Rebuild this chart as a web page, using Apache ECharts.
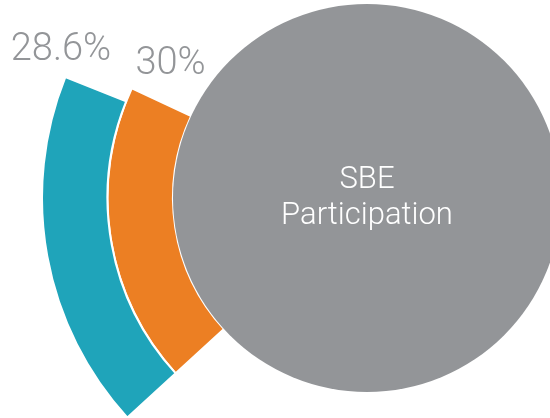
<!DOCTYPE html>
<html>
<head>
<meta charset="utf-8">
<script src="https://cdn.jsdelivr.net/npm/echarts@6/dist/echarts.min.js"></script>
<style>
  html, body { margin: 0; padding: 0; background: #fff; }
  #main { width: 550px; height: 418px; }
</style>
</head>
<body>
<div id="main"></div>
<script>
// chart data
const categories = ['Bar 1', 'Bar 2']
const values = [30, 28.6]
const colors = ['#ec7f23', '#1fa4ba']
const centerLabel = 'SBE\nParticipation'

const myChart = echarts.init(document.getElementById('main'))

// label offsets relative to each bar's bounding box
const labelPos = [[64, -23], [20, -26]]

myChart.setOption({
  animation: false,
  polar: {
    center: [367, 198],
    radius: [194, 325]
  },
  angleAxis: {
    type: 'value',
    min: 0,
    max: 160,
    startAngle: 222.5,
    clockwise: true,
    show: false
  },
  radiusAxis: {
    type: 'category',
    data: categories,
    show: false
  },
  series: [
    {
      type: 'pie',
      center: [367, 198],
      radius: 194,
      silent: true,
      label: {
        position: 'center',
        color: '#fff',
        fontFamily: 'Roboto',
        fontWeight: 300,
        fontSize: 31,
        lineHeight: 36,
        padding: [0, 0, 8, 0]
      },
      labelLine: { show: false },
      itemStyle: { color: '#939598' },
      data: [{ value: 1, name: centerLabel }]
    },
    {
      type: 'bar',
      coordinateSystem: 'polar',
      barWidth: '100%',
      itemStyle: {
        borderColor: '#fff',
        borderWidth: 2
      },
      label: {
        show: true,
        formatter: '{c}%',
        color: '#939598',
        fontFamily: 'Roboto',
        fontWeight: 300,
        fontSize: 38,
        align: 'center',
        verticalAlign: 'middle'
      },
      data: values.map((v, i) => ({
        value: v,
        itemStyle: { color: colors[i] },
        label: { position: labelPos[i] }
      }))
    }
  ]
})
</script>
</body>
</html>
